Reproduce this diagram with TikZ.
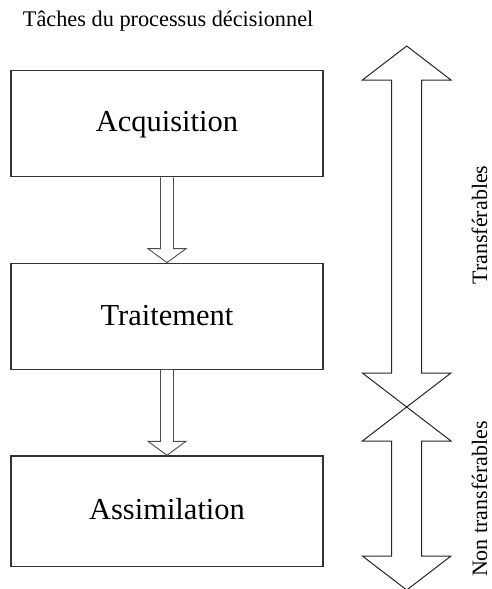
\documentclass[tikz,border=0pt]{standalone}
\usepackage{fontspec}
\setmainfont{Liberation Serif}
\usetikzlibrary{calc}

\tikzset{
  stage/.style={draw=black!80, line width=1.3pt, minimum width=312pt, inner sep=0pt},
  stagetext/.style={font=\fontsize{30.5}{36}\selectfont, inner sep=0pt},
  blockarrow/.style={draw=black!70, line width=0.9pt, line join=miter, fill=white},
  bigarrow/.style={draw=black!85, line width=1pt, line join=miter},
  sidetext/.style={font=\fontsize{22}{26}\selectfont, rotate=90, inner sep=0pt, anchor=base},
  titletext/.style={font=\fontsize{22.3}{27}\selectfont, inner sep=0pt}
}

\begin{document}
\begin{tikzpicture}[x=1pt, y=-1pt]
  \useasboundingbox (0,0) rectangle (491,589);

  % title
  \node[titletext, anchor=base west] (title) at (22.7,26.7) {Tâches du processus décisionnel};

  % the three stages
  \node[stage, minimum height=106pt] (acq) at (167,123.7) {};
  \node[stage, minimum height=106pt] (trt) at (167,316.3) {};
  \node[stage, minimum height=110.7pt] (ass) at (167,511.3) {};

  \node[stagetext] (acqt) at (167,125) {Acquisition};
  \node[stagetext] (trtt) at (167,316) {Traitement};
  \node[stagetext] (asst) at (167,509) {Assimilation};

  % hollow block arrows between stages
  \foreach \a/\b in {acq/trt, trt/ass}{
    \draw[blockarrow]
      ($(\a.south)+(-6.5,0)$) -- ($(\b.north)+(-6.5,-14)$) -- ($(\b.north)+(-19,-14)$)
      -- (\b.north)
      -- ($(\b.north)+(19,-14)$) -- ($(\b.north)+(6.5,-14)$) -- ($(\a.south)+(6.5,0)$);
  }

  % double arrow: transferable tasks
  \coordinate (ttop) at (406.7,46);
  \coordinate (tbot) at (406.7,407);
  \draw[bigarrow]
    (ttop) -- ($(ttop)+(44.3,34)$) -- ($(ttop)+(15,34)$)
    -- ($(tbot)+(15,-34)$) -- ($(tbot)+(44.3,-34)$) -- (tbot)
    -- ($(tbot)+(-44.3,-34)$) -- ($(tbot)+(-15,-34)$)
    -- ($(ttop)+(-15,34)$) -- ($(ttop)+(-44.3,34)$) -- cycle;

  % double arrow: non-transferable tasks
  \coordinate (ntop) at (406.7,407);
  \coordinate (nbot) at (406.7,590);
  \draw[bigarrow]
    (ntop) -- ($(ntop)+(44.3,34)$) -- ($(ntop)+(15,34)$)
    -- ($(nbot)+(15,-34)$) -- ($(nbot)+(44.3,-34)$) -- (nbot)
    -- ($(nbot)+(-44.3,-34)$) -- ($(nbot)+(-15,-34)$)
    -- ($(ntop)+(-15,34)$) -- ($(ntop)+(-44.3,34)$) -- cycle;

  \node[sidetext] (tr) at (487,225) {Transférables};
  \node[sidetext] (ntr) at (487,499) {Non transférables};
\end{tikzpicture}
\end{document}
